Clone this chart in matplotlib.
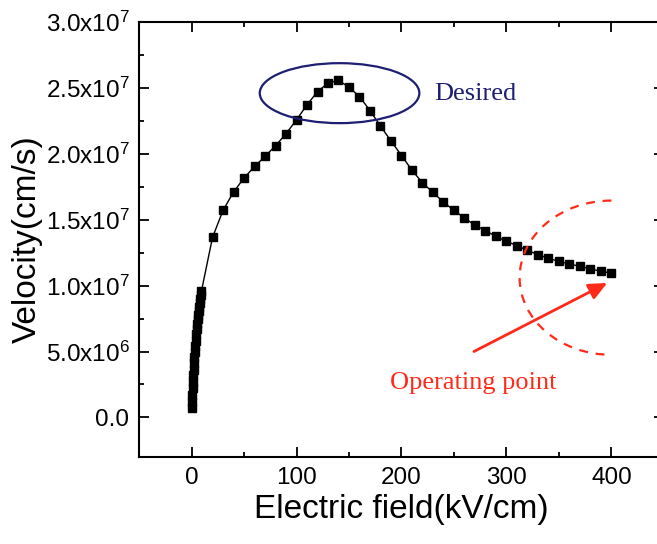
import matplotlib
matplotlib.use("Agg")
from matplotlib import pyplot as plt
from matplotlib.patches import Ellipse, Arc
import numpy as np

plt.rcParams['font.family'] = ['Liberation Sans', 'DejaVu Sans']
plt.rcParams['mathtext.fontset'] = 'custom'
plt.rcParams['mathtext.rm'] = 'Liberation Sans'
plt.rcParams['mathtext.default'] = 'regular'

# low-field points (kV/cm, 1e6 cm/s)
field_low = [0.2, 0.5, 0.8, 1.1, 1.4, 1.7, 2.0, 2.4, 2.8, 3.2, 3.6, 4.0,
             4.5, 5.0, 5.5, 6.0, 6.5, 7.0, 7.5, 8.0, 8.5, 9.0, 9.5]
vel_low = [0.7, 1.2, 1.7, 2.2, 2.7, 3.2, 3.6, 4.1, 4.6, 5.0, 5.4, 5.8,
           6.3, 6.7, 7.1, 7.5, 7.8, 8.1, 8.4, 8.7, 9.0, 9.3, 9.6]

# main curve, 20..400 kV/cm
field_main = [20, 30, 40, 50, 60, 70, 80, 90, 100, 110, 120, 130, 140, 150,
              160, 170, 180, 190, 200, 210, 220, 230, 240, 250, 260, 270,
              280, 290, 300, 310, 320, 330, 340, 350, 360, 370, 380, 390, 400]
vel_main = [13.66, 15.70, 17.10, 18.16, 19.04, 19.80, 20.61, 21.52, 22.58,
            23.71, 24.72, 25.36, 25.57, 25.05, 24.34, 23.28, 22.10, 20.98,
            19.87, 18.75, 17.80, 17.07, 16.33, 15.70, 15.13, 14.58, 14.17,
            13.73, 13.36, 13.03, 12.67, 12.35, 12.07, 11.84, 11.64, 11.46,
            11.27, 11.08, 10.96]

xticks = [0, 100, 200, 300, 400]
yticks = [0, 5e6, 1e7, 1.5e7, 2e7, 2.5e7, 3e7]
ytick_labels = ['0.0', r'5.0x10$^{6}$', r'1.0x10$^{7}$', r'1.5x10$^{7}$',
                r'2.0x10$^{7}$', r'2.5x10$^{7}$', r'3.0x10$^{7}$']

field = np.array(field_low + field_main)
vel = np.array(vel_low + vel_main) * 1e6

fig = plt.figure(figsize=(6.57, 5.44), dpi=100)
ax = fig.add_axes([0.2116, 0.16, 0.799, 0.7996])

ax.plot(field, vel, color='black', lw=1, marker='s', markersize=5.5, zorder=3)

navy = '#1e1e72'
red = '#ff2a1a'
# "Desired" ellipse around the peak
ax.add_patch(Ellipse((141, 24.6e6), 152, 4.55e6, fill=False, ec=navy, lw=1.6, zorder=4))
ax.text(270, 24.5e6, 'Desired', color=navy, fontsize=19,
        family='Liberation Serif', ha='center', va='center')

# operating point: dashed half circle + arrow
ax.add_patch(Arc((400, 10.6e6), 175, 11.7e6, theta1=90, theta2=270, ec=red,
                 lw=1.6, ls=(0, (4, 3.5)), zorder=4))
ax.annotate('', xy=(396, 10.2e6), xytext=(269, 5.0e6),
            arrowprops=dict(arrowstyle='-|>,head_length=1.1,head_width=0.5',
                            color=red, lw=2.0, shrinkA=0, shrinkB=0))
ax.text(268, 2.6e6, 'Operating point', color=red, fontsize=19,
        family='Liberation Serif', ha='center', va='center')

ax.set_xlim(-50, 450)
ax.set_ylim(-3e6, 3e7)
ax.set_xticks(xticks)
ax.set_xticklabels([str(v) for v in xticks])
ax.set_xticks(np.arange(50, 400, 100), minor=True)
ax.set_yticks(yticks)
ax.set_yticklabels(ytick_labels)
ax.set_yticks(np.arange(2.5e6, 3e7, 5e6), minor=True)
ax.tick_params(which='both', direction='in', top=True, right=True, width=1.3)
ax.tick_params(which='major', length=7, labelsize=17.5, pad=7)
ax.tick_params(which='minor', length=3.5)
for s in ax.spines.values():
    s.set_linewidth(1.5)

ax.set_xlabel('Electric field(kV/cm)', fontsize=24, labelpad=4)
ax.set_ylabel('Velocity(cm/s)', fontsize=24, labelpad=2)

fig.savefig('out.png', dpi=100)
